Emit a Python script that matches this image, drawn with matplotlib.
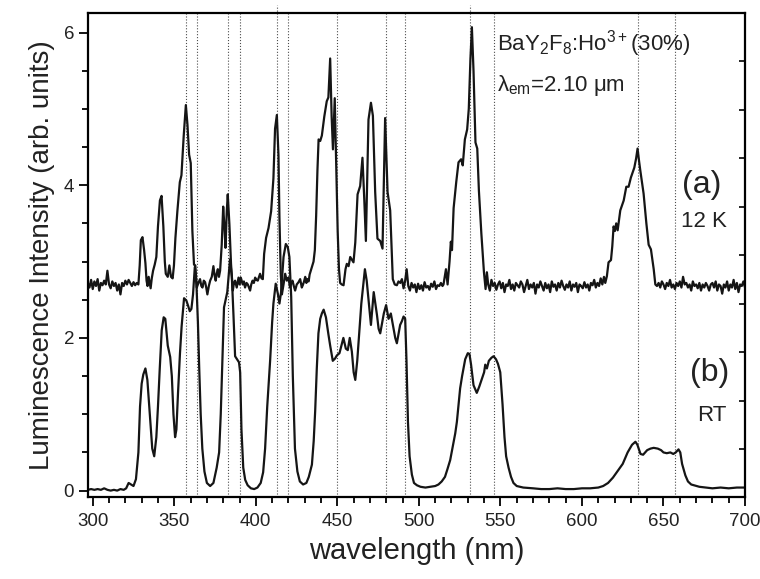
import numpy as np
import matplotlib.pyplot as plt
from matplotlib.ticker import MultipleLocator

plt.rcParams['font.family'] = ['Liberation Sans', 'DejaVu Sans']
plt.rcParams['mathtext.default'] = 'regular'

# positions of the dotted guide lines (nm)
guide_lines = [357.1, 363.8, 382.8, 390.4, 413.3, 420.0, 449.5,
               479.9, 491.2, 531.6, 545.8, 634.2, 656.8]
tall_lines = [413.3, 531.6]   # these two run a little above the frame

# (b) room temperature spectrum: (wavelength nm, intensity)
rt_points = [
    (297, 0.01), (299, 0.02), (301, 0.01), (303, 0.02), (305, 0.01), (307, 0.03),
    (309, 0.01), (311, 0.0), (313, 0.01), (315, 0.0), (317, 0.02), (319, 0.01),
    (320.5, 0.03), (322, 0.1), (323.5, 0.08), (325, 0.06), (326.5, 0.15), (328, 0.5),
    (329, 1.1), (330, 1.4), (331, 1.52), (332.3, 1.6), (333.5, 1.45), (335, 1.0),
    (336.5, 0.55), (337.7, 0.45), (339, 0.7), (340, 1.1), (341.1, 1.6), (342.3, 2.1),
    (343.5, 2.27), (344.5, 2.25), (346, 1.9), (347.5, 1.75), (348.5, 1.5), (349.5, 1.0),
    (350.5, 0.7), (351.3, 0.8), (352.3, 1.28), (353.5, 1.8), (354.5, 2.15), (356, 2.52),
    (357.4, 2.49), (358.5, 2.42), (359.5, 2.35), (360.5, 2.38), (361.5, 2.57), (362.6, 2.93),
    (363.6, 2.7), (364.5, 2.2), (365.3, 1.6), (366.2, 1.0), (367.2, 0.55), (368.5, 0.25),
    (370, 0.1), (372, 0.06), (374, 0.1), (376, 0.3), (377.5, 0.5), (378.5, 1.0),
    (379.5, 1.7), (380.5, 2.4), (381.5, 2.5), (382.5, 2.6), (383.3, 2.8), (384.2, 3.03),
    (385.3, 2.8), (386.3, 2.3), (387.3, 1.76), (388.5, 1.72), (389.7, 1.68), (390.4, 1.55),
    (391.2, 0.8), (392.3, 0.3), (393.5, 0.14), (395, 0.07), (397, 0.03), (399, 0.02),
    (401, 0.04), (403, 0.1), (404.5, 0.24), (405.7, 0.55), (407, 1.1), (408.8, 1.71),
    (410, 2.2), (410.8, 2.45), (412.2, 2.71), (413.5, 2.58), (414.5, 2.45), (415.5, 2.6),
    (417, 3.06), (418.4, 3.23), (419.6, 3.19), (420.6, 3.06), (421.7, 2.54), (422.7, 1.5),
    (424, 0.55), (425.5, 0.25), (427, 0.12), (429, 0.08), (431, 0.1), (432.5, 0.18),
    (434.4, 0.34), (435.5, 0.65), (436.4, 1.04), (437.4, 1.6), (438.4, 2.06), (439.5, 2.25),
    (440.5, 2.32), (441.6, 2.37), (443, 2.27), (444.5, 2.05), (445.6, 1.9), (447.2, 1.7),
    (448.6, 1.73), (449.7, 1.77), (451.3, 1.8), (452.5, 1.9), (453.7, 2.0), (455.2, 1.86),
    (456.4, 1.84), (457.6, 2.0), (458.9, 1.82), (460, 1.55), (461, 1.45), (462.2, 1.7),
    (463.5, 2.1), (464.7, 2.45), (465.7, 2.65), (466.9, 2.9), (468, 2.75), (469.1, 2.5),
    (470.6, 2.17), (471.5, 2.4), (472.3, 2.6), (473.3, 2.45), (474.3, 2.3), (475.3, 2.12),
    (476.3, 2.06), (477.5, 2.2), (478.5, 2.32), (479.9, 2.43), (481.4, 2.25), (482.8, 2.32),
    (484.5, 2.12), (485.5, 2.0), (486.5, 1.93), (487.5, 2.05), (488.5, 2.17), (489.6, 2.22),
    (490.6, 2.28), (491.6, 2.25), (492.4, 1.7), (493.3, 0.9), (494.3, 0.45), (495.7, 0.21),
    (497, 0.1), (498.8, 0.07), (501, 0.05), (504, 0.04), (507, 0.05), (510, 0.06),
    (512, 0.08), (514, 0.12), (516, 0.18), (517.5, 0.28), (519.2, 0.4), (521, 0.6),
    (522.3, 0.75), (523.3, 0.9), (525.3, 1.34), (526.5, 1.5), (528.4, 1.72), (530, 1.8),
    (531, 1.79), (532, 1.65), (533.5, 1.38), (535.5, 1.28), (537, 1.36), (538.6, 1.46),
    (540, 1.55), (540.7, 1.65), (541.7, 1.6), (542.9, 1.7), (544.5, 1.74), (545.8, 1.76),
    (547.3, 1.72), (548.5, 1.66), (549.9, 1.55), (551.3, 1.13), (552.5, 0.7), (553.5, 0.45),
    (555, 0.3), (556.5, 0.18), (558, 0.1), (560, 0.06), (564, 0.04), (570, 0.03),
    (575, 0.02), (580, 0.02), (585, 0.03), (590, 0.02), (595, 0.02), (600, 0.03),
    (605, 0.03), (610, 0.04), (613, 0.06), (616, 0.1), (619, 0.17), (622, 0.26),
    (625, 0.35), (628, 0.5), (630.7, 0.6), (632.8, 0.64), (634, 0.6), (635.9, 0.48),
    (637.5, 0.47), (640, 0.53), (642, 0.55), (644, 0.56), (646.5, 0.55), (648.5, 0.53),
    (650, 0.5), (652, 0.49), (654.2, 0.5), (656, 0.48), (657.5, 0.5), (659.2, 0.54),
    (660.3, 0.5), (661.4, 0.35), (663.4, 0.2), (665, 0.12), (667, 0.08), (672, 0.05),
    (680, 0.03), (685, 0.04), (690, 0.03), (695, 0.04), (700, 0.04),
]

# (a) 12 K spectrum: (wavelength nm, intensity)
k12_points = [
    (297, 2.72), (298, 2.66), (299, 2.76), (300, 2.64), (301, 2.74), (302, 2.68),
    (303, 2.77), (304, 2.62), (305, 2.72), (306, 2.69), (307, 2.75), (308, 2.7),
    (309, 2.88), (310, 2.7), (311, 2.65), (312, 2.74), (313, 2.68), (314, 2.72),
    (315, 2.62), (316, 2.7), (317, 2.57), (318, 2.72), (319, 2.68), (320, 2.75),
    (321, 2.7), (322, 2.76), (323, 2.72), (324, 2.68), (325, 2.73), (326, 2.69),
    (327, 2.72), (328, 2.7), (328.8, 2.95), (329.5, 3.28), (330.5, 3.32), (331.5, 3.15),
    (332.3, 2.98), (333, 2.75), (333.6, 2.68), (334.3, 2.8), (335.5, 2.65), (336.2, 2.78),
    (337, 2.88), (338, 2.96), (339, 3.06), (340, 3.46), (341.2, 3.8), (342.2, 3.86),
    (343.3, 3.46), (344.2, 3.0), (344.8, 2.84), (346, 2.8), (347, 2.95), (348, 2.8),
    (349, 2.78), (349.8, 2.95), (350.7, 3.31), (351.9, 3.66), (353.4, 4.04), (354.4, 4.13),
    (355.8, 4.65), (357.1, 5.05), (358.1, 4.79), (359.1, 4.4), (360.1, 4.29), (361.1, 3.4),
    (362.1, 2.96), (362.9, 2.95), (363.8, 2.66), (364.8, 2.72), (365.8, 2.77), (366.6, 2.68),
    (367.3, 2.66), (368.1, 2.75), (368.9, 2.73), (369.6, 2.66), (370.3, 2.57), (371.2, 2.68),
    (372, 2.75), (373, 2.8), (374, 2.94), (374.7, 2.82), (375.4, 2.75), (376, 2.84),
    (376.7, 2.9), (377.4, 2.8), (378.1, 2.88), (379.1, 3.22), (380, 3.72), (380.8, 3.44),
    (381.4, 3.18), (382.2, 3.66), (382.8, 3.88), (383.8, 3.49), (384.8, 2.97), (385.9, 2.62),
    (386.6, 2.72), (387.3, 2.75), (388.3, 2.66), (389.4, 2.79), (390.1, 2.7), (390.8, 2.79),
    (392, 2.7), (392.7, 2.74), (393.4, 2.66), (394.3, 2.72), (395.1, 2.7), (395.8, 2.66),
    (396.5, 2.62), (397.2, 2.7), (398, 2.75), (398.8, 2.72), (399.6, 2.79), (400.4, 2.76),
    (401.2, 2.75), (402, 2.8), (402.6, 2.84), (403.5, 2.78), (404.3, 2.77), (405.1, 3.1),
    (406.3, 3.31), (407.8, 3.44), (409.4, 3.66), (410.8, 4.09), (411.8, 4.74), (412.9, 4.92),
    (413.9, 4.39), (414.5, 3.57), (415.3, 2.84), (416, 2.57), (417, 2.7), (418, 2.84),
    (419, 2.75), (420, 2.79), (421, 2.66), (421.8, 2.72), (422.5, 2.75), (423.3, 2.68),
    (424.1, 2.62), (425.1, 2.7), (426.2, 2.73), (427.2, 2.77), (428.2, 2.66), (428.8, 2.69),
    (429.6, 2.74), (430.3, 2.8), (431, 2.72), (431.7, 2.77), (432.4, 2.74), (433, 2.83),
    (434, 2.9), (435.4, 3.0), (436.2, 3.15), (437, 3.6), (437.8, 4.2), (438.5, 4.6),
    (439.5, 4.58), (440.5, 4.65), (442, 4.9), (443.5, 5.1), (444.5, 5.15), (445.6, 5.66),
    (446.5, 4.9), (447.3, 4.47), (448.4, 5.14), (449.3, 4.3), (450.2, 3.4), (451, 2.9),
    (451.7, 2.72), (452.7, 2.7), (453.8, 2.69), (455, 2.9), (455.8, 2.97), (456.9, 2.94),
    (457.9, 3.06), (459, 3.02), (459.9, 2.99), (461, 3.25), (462.4, 3.88), (464, 3.99),
    (465.4, 4.36), (466.5, 3.82), (467.5, 3.27), (469.1, 4.86), (470.6, 5.08), (471.8, 4.91),
    (473.2, 3.91), (474.6, 3.3), (476.3, 3.27), (477.7, 3.17), (479.3, 4.88), (480.8, 3.91),
    (482.4, 3.67), (484, 2.77), (485.2, 2.7), (486.5, 2.69), (487.5, 2.74), (488.6, 2.72),
    (489.6, 2.77), (490.6, 2.65), (491.6, 2.75), (492.5, 2.9), (493.5, 2.68), (494.5, 2.62),
    (495.5, 2.72), (496.5, 2.66), (497.5, 2.7), (498.5, 2.6), (499.5, 2.71), (500.5, 2.64),
    (501.5, 2.69), (502.5, 2.62), (503.5, 2.73), (504.5, 2.66), (505.5, 2.68), (506.5, 2.63),
    (507.5, 2.71), (508.5, 2.67), (509.5, 2.74), (510.5, 2.64), (511.5, 2.69), (512.5, 2.68),
    (513.5, 2.72), (514.5, 2.68), (515.1, 2.7), (516.6, 2.9), (517.6, 2.7), (518.8, 3.0),
    (519.6, 3.26), (520.3, 3.15), (521.3, 3.7), (522.9, 4.04), (524.3, 4.3), (525.9, 4.34),
    (526.9, 4.26), (528.2, 4.6), (529.6, 4.73), (530.6, 5.0), (531.6, 5.65), (532.5, 6.07),
    (533.5, 5.5), (534.7, 4.56), (535.8, 4.48), (536.8, 3.93), (538.3, 3.37), (539.9, 2.86),
    (540.9, 2.64), (541.7, 2.86), (542.5, 2.7), (543.5, 2.62), (544.5, 2.76), (545.5, 2.68),
    (546.5, 2.72), (547.5, 2.63), (548.5, 2.7), (549.5, 2.74), (550.5, 2.65), (551.5, 2.72),
    (552.5, 2.6), (553.5, 2.7), (554.5, 2.68), (555.5, 2.76), (556.5, 2.64), (557.5, 2.7),
    (558.5, 2.62), (559.5, 2.72), (560.5, 2.69), (561.5, 2.66), (562.5, 2.74), (563.5, 2.7),
    (564.5, 2.6), (565.5, 2.68), (566.5, 2.76), (567.5, 2.64), (568.5, 2.7), (569.5, 2.66),
    (570.5, 2.72), (571.5, 2.58), (572.5, 2.7), (573.5, 2.66), (574.5, 2.74), (575.5, 2.68),
    (576.5, 2.62), (577.5, 2.72), (578.5, 2.65), (579.5, 2.7), (580.5, 2.6), (581.5, 2.74),
    (582.5, 2.67), (583.5, 2.7), (584.5, 2.62), (585.5, 2.72), (586.5, 2.66), (587.5, 2.75),
    (588.5, 2.68), (589.5, 2.63), (590.5, 2.7), (591.5, 2.66), (592.5, 2.74), (593.5, 2.62),
    (594.5, 2.7), (595.5, 2.67), (596.5, 2.72), (597.5, 2.6), (598.5, 2.7), (599.5, 2.68),
    (600.5, 2.65), (601.5, 2.73), (602.5, 2.66), (603.5, 2.7), (604.5, 2.62), (605.5, 2.72),
    (606.5, 2.69), (607.5, 2.76), (608.5, 2.66), (609.5, 2.72), (610.5, 2.68), (611.5, 2.78),
    (612.5, 2.7), (613.5, 2.8), (614.3, 2.72), (615.3, 2.81), (616.3, 2.99), (617.8, 3.02),
    (618.6, 3.2), (619.4, 3.46), (620.2, 3.4), (621, 3.5), (621.9, 3.41), (623.5, 3.67),
    (625.6, 3.8), (627.2, 3.98), (628.6, 3.98), (630, 4.1), (632.1, 4.23), (633.2, 4.35),
    (634.1, 4.48), (635, 4.32), (635.8, 4.19), (637.8, 3.89), (639.5, 3.5), (640.9, 3.22),
    (642.3, 3.16), (644, 2.9), (645, 2.7), (646, 2.68), (647, 2.72), (648, 2.66),
    (649, 2.74), (650, 2.7), (651, 2.64), (652, 2.72), (653, 2.68), (654, 2.76),
    (655, 2.66), (656, 2.7), (657, 2.64), (658, 2.72), (659, 2.68), (660, 2.74),
    (661, 2.66), (662, 2.8), (663, 2.7), (664, 2.72), (665, 2.66), (666, 2.7),
    (667, 2.62), (668, 2.74), (669, 2.68), (670, 2.7), (671, 2.65), (672, 2.72),
    (673, 2.62), (674, 2.7), (675, 2.66), (676, 2.72), (677, 2.68), (678, 2.62),
    (679, 2.7), (680, 2.72), (681, 2.66), (682, 2.74), (683, 2.62), (684, 2.7),
    (685, 2.68), (686, 2.58), (687, 2.7), (688, 2.66), (689, 2.74), (690, 2.62),
    (691, 2.7), (692, 2.66), (693, 2.76), (694, 2.64), (695, 2.72), (696, 2.6),
    (697, 2.7), (698, 2.68), (699, 2.74), (700, 2.66),
]

rt_wl, rt_int = np.array(rt_points).T
k12_wl, k12_int = np.array(k12_points).T

fig = plt.figure(figsize=(7.6, 5.79), dpi=100)
ax = fig.add_axes([0.1158, 0.1408, 0.8645, 0.8373])

for x in guide_lines:
    top = 1.015 if x in tall_lines else 1.0
    ax.axvline(x, 0, top, color='0.3', ls=':', lw=0.8, clip_on=False)

ax.plot(k12_wl, k12_int, color='#151515', lw=1.6)
ax.plot(rt_wl, rt_int, color='#151515', lw=1.6)

ax.set_xlim(297.1, 700)
ax.set_ylim(-0.09, 6.26)
ax.xaxis.set_major_locator(MultipleLocator(50))
ax.xaxis.set_minor_locator(MultipleLocator(10))
ax.yaxis.set_major_locator(MultipleLocator(2))
ax.yaxis.set_minor_locator(MultipleLocator(0.5))
ax.tick_params(which='major', direction='out', length=6.5, width=1.3,
               labelsize=13.5, labelcolor='#222222', top=False, right=False)
ax.tick_params(axis='x', which='major', pad=5)
ax.tick_params(which='minor', direction='out', length=4, width=1.3,
               top=False, right=False)
for s in ax.spines.values():
    s.set_linewidth(1.6)

# inward ticks on the right frame
ax2 = ax.twinx()
ax2.set_ylim(0, 10)
ax2.set_yticks(range(1, 10))
ax2.tick_params(axis='y', direction='in', length=4, width=1.2, labelright=False)
for s in ax2.spines.values():
    s.set_visible(False)

ax.set_xlabel('wavelength (nm)', fontsize=21, color='#222222', labelpad=5)
ax.set_ylabel('Luminescence Intensity (arb. units)', fontsize=20,
              color='#222222', labelpad=6)

ax.text(548, 5.86, r'BaY$_2$F$_8$:Ho$^{3+}$(30%)', fontsize=16, va='center', color='#222222')
ax.text(548, 5.31, 'λ$_{em}$=2.10 μm', fontsize=16, va='center', color='#222222')
ax.text(661.5, 4.0, '(a)', fontsize=23, va='center', color='#222222')
ax.text(660.5, 3.52, '12 K', fontsize=16, va='center', color='#222222')
ax.text(666.5, 1.54, '(b)', fontsize=23, va='center', color='#222222')
ax.text(670.5, 0.99, 'RT', fontsize=16, va='center', color='#222222')

plt.savefig('out.png', dpi=100)
